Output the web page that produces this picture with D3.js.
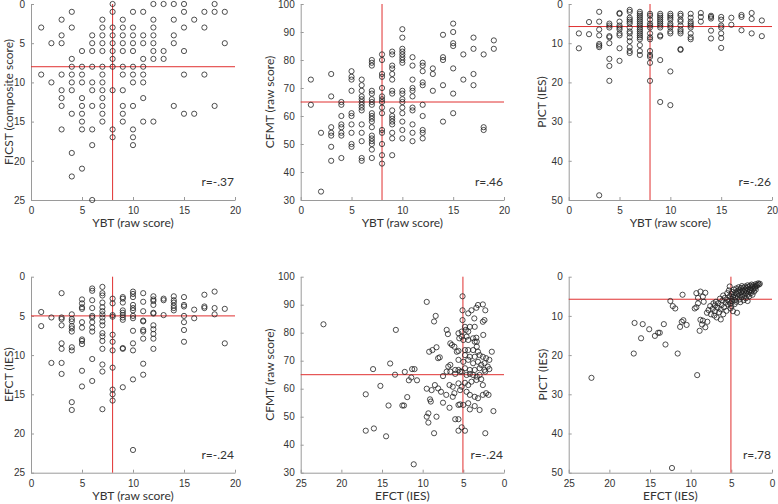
<!DOCTYPE html>
<html>
<head>
<meta charset="utf-8">
<script src="https://cdn.jsdelivr.net/npm/d3@7"></script>
<style>
  body { margin: 0; background: #fff; }
  svg { display: block; font-family: Lato, "Open Sans", sans-serif; }
  .tick text { fill: #333; font-size: 10px; }
  .tick line, .domain { stroke: #9a9a9a; }
</style>
</head>
<body>
<svg id="chart" width="778" height="504"></svg>
<script>
// YBT raw scores used as x in the first four panels
const ybtScores = [1,2,3,4,5,6,7,8,9,10,11,12,13,14,15,16,17,18,19];

// FICST composite score for each YBT score
const ficstByYbt = [
  [3,9], [5,10], [2,4,5,9,11,12,13,16], [1,3,7,8,9,10,11,14,19,22],
  [6,8,9,10,12,13,14,15,16,21], [4,5,6,8,10,11,13,16,18,25],
  [2,3,4,5,6,8,9,10,11,12,13,14,15], [0,1,3,4,5,6,7,8,11,16,17],
  [2,3,4,5,6,8,9,11,13,14,15], [1,3,4,5,6,8,9,10,13,16,17,18],
  [1,4,5,7,8,9,10,12,15], [0,2,3,4,5,6,7,15], [0,6,7], [0,2,4,5,13],
  [0,1,3,6,9,14], [2,14], [1,3,9], [0,1,13], [1,5]
];

// CFMT raw score for each YBT score
const cfmtByYbt = [
  [73,64], [54,33], [75,67,56,54,53,49,44], [65,64,60,57,56,54,53,45],
  [76,74,73,69,61,60,57,54,50,49], [73,71,69,67,66,65,64,63,62,57,54,51,45,44],
  [80,79,78,69,68,66,65,64,61,60,59,58,56,53,52,51,50,48,45],
  [82,80,75,74,70,67,66,65,63,61,55,54,50,46,43],
  [83,82,78,77,75,73,69,68,62,60,59,58,57,54,52,46],
  [91,88,84,83,82,81,80,79,69,68,66,65,63,61,58,55,52],
  [81,78,73,70,69,67,63,62,57,54,51], [79,78,76,72,71,64,60,55,54,52],
  [77,75,69], [89,81,80,71,58], [93,90,86,85,77,68,61], [82,73],
  [88,84,75,71], [82,56,55], [87,84]
];

// PICT (IES) for each YBT score
const pictByYbt = [
  [7.5,11.3], [4.6,7.7], [2,4.5,6.5,8,10.2,10.6,11,48.8],
  [5,5.5,6,8.2,8.5,10,14,15.8,19.6], [2.3,2.5,4.5,5.5,6,6.5,7.5,8,11.3,14.5],
  [1.5,2,3.5,4,4.5,5,6,7,7.5,8.5,9.5,11,12,12.5],
  [2,2.5,3,3.5,4,4.5,5,5.5,6,6.5,7,7.5,8,8.5,9,10.5,12,13],
  [2.5,3,4,5,5.5,6,7.5,8.5,9,12,13,13.5,15,19.6],
  [2.5,3,3.5,4,4.5,5,5.5,6,8,8.3,14.3,25],
  [2.5,3,3.5,4,5,5.5,6,7,7.5,17.2,25.8],
  [2.5,3,4,4.5,5.5,6.5,7,7.5,11.5,11.7], [2.5,3.5,4.5,5,5.5,6,7.5,8.5,9],
  [2.3,3.3,4.5], [3,3.3,3.7,6.8,8.8], [3.3,4,5.5,6,7.5,8.7,11.2], [3.5,5.3],
  [2.8,3.3,6.7], [2.3,3.8,7.5], [4.2,8.2]
];

// EFCT (IES) for each YBT score
const efctByYbt = [
  [4.5,6.3], [5.2,11], [2.1,5.2,5.4,6.2,8.5,9.2,11,12.4],
  [4.8,5.4,5.7,6.3,6.6,7,9,9.4,16,17], [2.9,3.4,3.9,4.1,5.8,6.5,8,8.2,8.6,12,14],
  [1.5,1.8,3,4,5,5.2,5.8,6.5,7,10.5,13.3],
  [1.3,2.1,2.4,3.3,3.9,4.4,4.8,5.2,5.7,6.2,7.2,7.6,8.2,9.2,11.2,12.1,16.9],
  [2.8,3.4,4.9,5.1,7.4,8.3,9.4,11.6,14.4,15,15.8],
  [2.6,2.8,3.3,4.3,4.6,4.9,5.2,5.5,9.1,9.2,14.1],
  [1.9,2.2,2.6,3.6,4,4.3,5,5.3,6.9,8.5,9.4,13.1,22.1],
  [2.1,3.2,4.4,5.6,5.7,6.8,7,7.9,11.1,12.5],
  [2.5,2.9,3.1,3.6,4.6,4.7,6.2,6.7,7.3,7.9,9.2],
  [2.8,3,4.9], [2.5,3,3.3,3.7,4,4.3], [2.6,3.6,3.8,5,5.8,6.8,8.3], [4.2,5.3],
  [2.3,3.8,4], [1.9,4,4.8], [4.1,8.5]
];

// [EFCT, CFMT] pairs
const efctCfmt = [
  [22.2,83],[17,58],[17,45],[16.1,67],[16,45.8],[15.2,61],[14.5,43],[14.2,54],[14,69],
  [13.4,65],[13.3,81],[12.5,54],[12.3,54],[12.2,66],[11.9,57],[11.7,63],[11.4,64],
  [11.3,67],[11,67],[11.1,33],[10.7,63],[9.5,91],[9.5,60],[9.5,50],[9.3,51.2],[9.3,47.9],
  [9.2,73.2],[9.1,56.2],[9.0,55.4],[8.8,73.8],[8.3,74.8],
  [5.1,93],[8.4,86],[8.6,84],[5.1,88],[4.4,86.9],[4.0,88],[3.4,88.9],[3.2,89.9],[2.6,90.1],
  [2.3,88],[5.1,84.5],[3.65,85.1],[2.6,83.9],[2.4,84.5],[7.05,81],[6.9,79.5],[5.6,79.8],
  [5.2,80.4],[4.8,82.1],[4.7,81],[4.4,80.4],[4.2,82.1],[3.6,82.1],[5.5,78],[5.2,78.6],
  [5.0,77.4],[4.6,78.6],[4.4,77.4],[3.8,78],[3.4,78.2],[3.6,76.8],[3.35,76.8],[2.55,79.2],
  [6.6,76.2],[6.4,75.6],[6.1,75],[3.35,75],[3.2,73.2],[3.8,73.8],[4.4,73.8],[4.8,73.8],
  [1.5,73.2],[8.1,70.9],[7.9,71.2],[5.8,73.2],[5.6,73.5],[4.8,72],[4.2,71.4],[3.6,71.4],
  [3.0,72],[2.6,71.4],[2.2,70.9],[1.8,70.3],[5.6,70.3],[5.0,69.6],[4.4,70.3],[3.8,69.1],
  [3.2,69.6],[2.8,68.5],[2.4,69.1],[2.0,67.9],[6.85,67.9],[6.6,68.5],[6.0,66.7],[5.6,66.7],
  [5.4,66.1],[4.8,67.3],[4.2,66.7],[3.6,66.7],[3.0,67.3],[2.4,66.7],[1.8,67],
  [7.5,64.5],[7.05,66.1],[6.6,66.1],[6.0,65.3],[5.2,66.1],[4.6,64.9],[4.2,65.3],[3.8,64.9],
  [3.35,64.3],[3.0,64.9],[2.3,66.1],[8.5,61.3],[8.1,60.1],[8.9,59.5],[6.7,61.3],[6.3,60.7],
  [5.6,61.9],[5.2,60.7],[4.8,62.1],[4.4,61.3],[4.0,62.5],[3.4,63.1],[2.8,63.4],[2.6,61.3],
  [2.2,58.4],[1.9,57.8],[1.3,52],[7.75,58.9],[7.1,57.8],[6.3,57.1],[6.1,58.4],[5.4,59.5],
  [4.6,58.9],[4.2,57.8],[3.6,57.1],[3.2,56.6],[2.6,57.8],[8.3,50],[7.5,55],[6.7,53.2],
  [5.6,54.2],[5.4,54.4],[5.0,54.2],[4.4,54.8],[3.6,53.8],[4.2,52.6],[3.0,52.4],[6.0,49.1],
  [5.6,49.1],[5.2,46.2],[5.6,45],[4.8,45],[8.6,44.1],[2.3,44.1]
];

// [EFCT, PICT] pairs
const efctPict = [
  [22.2,25.8],[16.9,11.8],[17,19.6],[15.9,12.1],[16.1,15.7],[15.1,13.4],[14.4,15.1],
  [14,14.3],[13.8,14.3],[13.3,12.1],[13.1,17.3],[12.5,6.2],[12.2,7.5],[11.9,8.1],
  [12.3,48.8],[11.6,19.6],[11.3,12.8],[11.1,11.5],[10.9,11.1],[10.5,12.3],[11,4.6],
  [9.2,25.1],[8.9,13.8],[8.2,12.9],[8.5,11.2],[7.95,11.5],[8.8,11],[8.6,12.2],
  [9.5,8.1],[9.3,7.8],[9.1,5.4],[9.3,4.2],[8.8,3.8],[8.5,5.1],[8.2,4.1],[9.1,6.8],[8.4,6.4],
  [8.0,9.2],[7.8,8.5],[7.6,7.5],[7.5,9.6],[7.3,8.2],[7.2,6.8],[7.1,9.9],[7.0,7.3],[7.0,8.8],
  [6.9,6.4],[6.8,10.4],[6.7,7.9],[6.6,6.8],[6.5,9.1],[6.4,5.6],[6.3,8.3],[6.3,10.9],
  [6.2,7.2],[6.1,6.1],[6.0,9.6],[6.0,4.8],[5.9,7.8],[5.8,5.4],[5.7,6.6],[5.6,8.7],
  [5.5,4.2],[5.5,5.9],[5.4,7.1],[5.3,3.5],[5.3,6.3],[5.2,2.5],[5.2,5.0],[5.1,8.1],
  [5.1,6.8],[5.0,4.4],[5.0,5.6],[5.0,7.5],[4.9,3.9],[4.9,6.2],[4.8,5.2],[4.8,8.8],
  [4.7,3.3],[4.7,4.7],[4.6,6.0],[4.6,7.0],[4.5,4.0],[4.5,5.4],[4.4,3.0],[4.4,6.4],
  [4.3,4.5],[4.3,9.2],[4.2,3.6],[4.2,5.1],[4.1,2.7],[4.1,4.2],[4.0,5.8],[4.0,3.3],
  [3.9,4.8],[3.9,6.5],[3.8,2.9],[3.8,3.9],[3.7,5.2],[3.7,2.4],[3.6,3.5],[3.6,4.4],
  [3.5,6.0],[3.5,2.8],[3.4,3.8],[3.4,4.9],[3.3,2.5],[3.3,3.3],[3.2,4.3],[3.2,5.5],
  [3.1,2.9],[3.1,3.7],[3.0,2.2],[3.0,4.6],[3.0,6.2],[2.9,3.2],[2.9,2.6],[2.8,3.9],
  [2.8,5.0],[2.7,2.3],[2.7,3.4],[2.6,2.9],[2.6,4.2],[2.5,2.0],[2.5,3.6],[2.4,2.6],
  [2.4,4.6],[2.3,3.1],[2.3,2.2],[2.2,3.8],[2.1,2.5],[2.1,2.9],[2.0,1.9],[2.0,3.3],
  [1.9,2.4],[1.8,2.1],[1.7,1.7],[1.6,2.0],[1.5,1.8]
];

function byYbt(cols) {
  return cols.flatMap((ys, i) => ys.map(y => [ybtScores[i], y]));
}

const panels = [
  { data: byYbt(ficstByYbt), xDom: [0,20], yDom: [25,0], xTicks: [0,5,10,15,20], yTicks: [0,5,10,15,20,25],
    xLab: "YBT (raw score)", yLab: "FICST (composite score)", r: "r=-.37", ref: [8,8],
    box: [31,235,4,200], yLabX: 9 },
  { data: byYbt(cfmtByYbt), xDom: [0,20], yDom: [30,100], xTicks: [0,5,10,15,20], yTicks: [30,40,50,60,70,80,90,100],
    xLab: "YBT (raw score)", yLab: "CFMT (raw score)", r: "r=.46", ref: [8,65],
    box: [300.7,504,4,200], yLabX: 270 },
  { data: byYbt(pictByYbt), xDom: [0,20], yDom: [50,0], xTicks: [0,5,10,15,20], yTicks: [0,10,20,30,40,50],
    xLab: "YBT (raw score)", yLab: "PICT (IES)", r: "r=-.26", ref: [8,5.75],
    box: [568.7,772,4,200], yLabX: 542 },
  { data: byYbt(efctByYbt), xDom: [0,20], yDom: [25,0], xTicks: [0,5,10,15,20], yTicks: [0,5,10,15,20,25],
    xLab: "YBT (raw score)", yLab: "EFCT (IES)", r: "r=-.24", ref: [8,5],
    box: [31,235,276.7,472.7], yLabX: 9 },
  { data: efctCfmt, xDom: [25,0], yDom: [30,100], xTicks: [25,20,15,10,5,0], yTicks: [30,40,50,60,70,80,90,100],
    xLab: "EFCT (IES)", yLab: "CFMT (raw score)", r: "r=-.24", ref: [5.05,65],
    box: [300.7,504,276.7,472.7], yLabX: 270 },
  { data: efctPict, xDom: [25,0], yDom: [50,0], xTicks: [25,20,15,10,5,0], yTicks: [0,10,20,30,40,50],
    xLab: "EFCT (IES)", yLab: "PICT (IES)", r: "r=.78", ref: [5.05,5.75],
    box: [568.7,772,276.7,472.7], yLabX: 543 }
];

const svg = d3.select("#chart");

panels.forEach(p => {
  const [left, right, top, bottom] = p.box;
  const x = d3.scaleLinear().domain(p.xDom).range([left, right]);
  const y = d3.scaleLinear().domain(p.yDom).range([bottom, top]);
  const g = svg.append("g");

  // axes with small inward ticks
  g.append("g")
    .attr("transform", `translate(0,${bottom})`)
    .call(d3.axisBottom(x).tickValues(p.xTicks).tickSizeInner(-3).tickSizeOuter(0).tickPadding(5))
    .call(a => a.selectAll("text").attr("dy", "0.9em"));
  g.append("g")
    .attr("transform", `translate(${left},0)`)
    .call(d3.axisLeft(y).tickValues(p.yTicks).tickSizeInner(-3).tickSizeOuter(0).tickPadding(6));

  // reference lines
  g.append("line")
    .attr("x1", x(p.ref[0])).attr("x2", x(p.ref[0]))
    .attr("y1", top).attr("y2", bottom)
    .attr("stroke", "#e03030").attr("stroke-width", 1);
  g.append("line")
    .attr("x1", left).attr("x2", right)
    .attr("y1", y(p.ref[1])).attr("y2", y(p.ref[1]))
    .attr("stroke", "#e03030").attr("stroke-width", 1);

  // points
  g.selectAll("circle")
    .data(p.data)
    .join("circle")
    .attr("cx", d => x(d[0]))
    .attr("cy", d => y(d[1]))
    .attr("r", 2.6)
    .attr("fill", "none")
    .attr("stroke", "#222")
    .attr("stroke-width", 0.8);

  // labels
  g.append("text")
    .attr("x", (left + right) / 2).attr("y", bottom + 27)
    .attr("text-anchor", "middle")
    .style("font-size", "12px").style("fill", "#333")
    .text(p.xLab);
  g.append("text")
    .attr("transform", `translate(${p.yLabX},${(top + bottom) / 2}) rotate(-90)`)
    .attr("text-anchor", "middle").attr("dy", "0.35em")
    .style("font-size", "12px").style("fill", "#333")
    .text(p.yLab);
  g.append("text")
    .attr("x", right - 1).attr("y", bottom - 14)
    .attr("text-anchor", "end")
    .style("font-size", "12px").style("fill", "#333")
    .text(p.r);
});
</script>
</body>
</html>
